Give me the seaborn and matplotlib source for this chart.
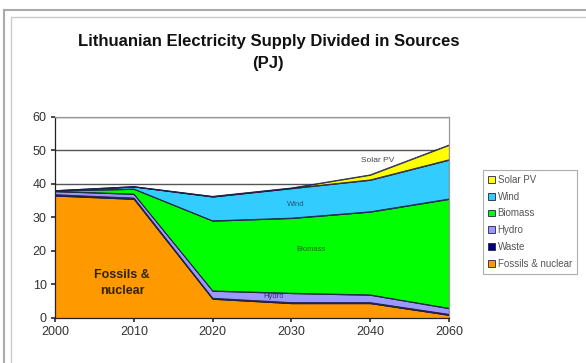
import numpy as np
import pandas as pd
import matplotlib
matplotlib.use("Agg")
import matplotlib.pyplot as plt
from matplotlib.patches import Rectangle
import seaborn as sns

# --- Data (PJ) ---
years = ["2000", "2010", "2020", "2030", "2040", "2060"]
fossil_nuclear = [36.5, 35.5, 5.7, 4.4, 4.4, 0.9]
waste = [0.3, 0.3, 0.2, 0.2, 0.2, 0.2]
hydro = [1.0, 1.2, 2.2, 2.8, 2.3, 1.8]
biomass = [0.2, 1.5, 20.9, 22.4, 24.8, 32.6]
wind = [0.0, 0.7, 7.2, 8.9, 9.5, 11.7]
solar_pv = [0.0, 0.0, 0.1, 0.1, 1.5, 4.4]

series_names = ["Fossils & nuclear", "Waste", "Hydro", "Biomass", "Wind", "Solar PV"]
series_colors = ["#FF9900", "#000080", "#9999FF", "#00FF00", "#33CCFF", "#FFFF00"]


def make_chart():
    sns.set_theme(style="white")
    plt.rcParams["font.family"] = ["Liberation Sans", "DejaVu Sans"]

    df = pd.DataFrame({
        "year": years,
        "Fossils & nuclear": fossil_nuclear,
        "Waste": waste,
        "Hydro": hydro,
        "Biomass": biomass,
        "Wind": wind,
        "Solar PV": solar_pv,
    })
    x = np.arange(len(df))

    fig = plt.figure(figsize=(5.86, 3.63), dpi=100)
    ax = fig.add_axes([0.094, 0.124, 0.672, 0.554])

    # gridlines behind the areas
    for g in range(10, 70, 10):
        ax.axhline(g, color="#555555", lw=1.0, zorder=0)

    ax.stackplot(x, *[df[n] for n in series_names],
                 colors=series_colors, labels=series_names,
                 edgecolor="#222244", linewidth=0.6, zorder=2)

    # outline the cumulative tops with seaborn
    cum = df[series_names].cumsum(axis=1)
    for n in series_names:
        sns.lineplot(x=x, y=cum[n].values, ax=ax, color="#222244",
                     lw=0.6, zorder=3, legend=False)

    ax.set_xlim(0, len(df) - 1)
    ax.set_ylim(0, 60)
    ax.set_xticks(x)
    ax.set_xticklabels(years)
    ax.set_yticks(range(0, 70, 10))
    ax.tick_params(axis="both", labelsize=9, colors="#333333", length=3,
                   direction="out", bottom=True, left=True, pad=3)
    ax.spines["left"].set_color("#222222")
    ax.spines["bottom"].set_color("#222222")
    ax.spines["top"].set_color("#999999")
    ax.spines["right"].set_color("#999999")
    for s in ax.spines.values():
        s.set_linewidth(0.9)

    # in-chart labels
    ax.text(0.85, 10.5, "Fossils &\nnuclear", fontsize=9, fontweight="bold",
            ha="center", va="center", color="#332200", linespacing=1.4)
    ax.text(2.78, 6.3, "Hydro", fontsize=5.5, color="#333366", ha="center", va="center")
    ax.text(3.25, 20.5, "Biomass", fontsize=5.5, color="#226622", ha="center", va="center")
    ax.text(3.05, 34, "Wind", fontsize=5.5, color="#225577", ha="center", va="center")
    ax.text(4.1, 47, "Solar PV", fontsize=6, color="#444444", ha="center", va="center")

    # legend (reverse order, top = Solar PV)
    handles, labels = ax.get_legend_handles_labels()
    leg = fig.legend(handles[::-1], labels[::-1], loc="upper left",
                     bbox_to_anchor=(0.816, 0.545), fontsize=7, frameon=True,
                     handlelength=0.7, handleheight=0.7, handletextpad=0.3,
                     labelspacing=0.7, borderpad=0.5, fancybox=False,
                     labelcolor="#555555")
    leg.get_frame().set_edgecolor("#999999")
    leg.get_frame().set_linewidth(0.8)

    # title
    fig.text(0.458, 0.856, "Lithuanian Electricity Supply Divided in Sources\n(PJ)",
             ha="center", va="center", fontsize=12, fontweight="bold",
             color="#111111", linespacing=1.55)

    # chart area frame
    fig.patches.append(Rectangle((0.007, -0.01), 1.0, 0.982, transform=fig.transFigure,
                                 fill=False, edgecolor="#aaaaaa", lw=1.5))
    fig.patches.append(Rectangle((0.019, -0.01), 1.0, 0.963, transform=fig.transFigure,
                                 fill=False, edgecolor="#cccccc", lw=1.0))

    fig.savefig("out.png", dpi=100)


if __name__ == "__main__":
    make_chart()
